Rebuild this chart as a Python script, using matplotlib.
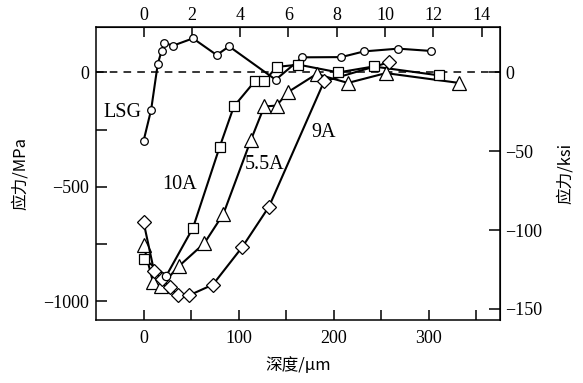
import matplotlib
matplotlib.use("Agg")
import matplotlib.pyplot as plt
import numpy as np

plt.rcParams['font.family'] = ['Liberation Serif', 'Noto Sans CJK SC', 'DejaVu Sans']
plt.rcParams['axes.unicode_minus'] = True

# Depth (um) and residual stress (MPa) for each condition
lsg_depth = [0, 8, 15, 19, 22, 31, 52, 77, 90, 139, 167, 208, 232, 268, 302]
lsg_stress = [-300, -163, 38, 94, 129, 117, 149, 76, 114, -32, 66, 67, 92, 104, 94]

a10_depth = [0, 24, 52, 80, 95, 117, 127, 140, 163, 205, 242, 311]
a10_stress = [-815, -889, -680, -327, -149, -39, -39, 24, 34, 0, 26, -13]
a10_markers = ['s', 'o', 's', 's', 's', 's', 's', 's', 's', 's', 's', 's']

a55_depth = [0, 10, 18, 37, 64, 84, 113, 127, 140, 152, 182, 215, 255, 332]
a55_stress = [-755, -918, -935, -848, -747, -619, -295, -149, -145, -86, -7, -46, -3, -46]

a9_depth = [0, 11, 19, 28, 36, 48, 73, 104, 132, 190, 258]
a9_stress = [-654, -868, -905, -940, -975, -975, -928, -763, -587, -39, 44]

series_labels = ['LSG', '10A', '5.5A', '9A']
label_pos = [(-42, -177), (20, -492), (107, -404), (177, -262)]

x_ticks = [0, 100, 200, 300]
y_ticks = [-1000, -500, 0]
top_ticks = [0, 2, 4, 6, 8, 10, 12, 14]
right_ticks = [0, -50, -100, -150]

fig = plt.figure(figsize=(5.83, 3.83), dpi=100)
ax = fig.add_axes([0.1647, 0.1632, 0.6929, 0.7671])

ax.axhline(0, color='black', lw=1.1, ls=(0, (5, 4)), zorder=1)

lw = 1.5
ax.plot(lsg_depth, lsg_stress, '-', color='black', lw=lw, marker='o', ms=5.5,
        mfc='white', mec='black', mew=0.9, zorder=3)
ax.plot(a10_depth, a10_stress, '-', color='black', lw=lw, zorder=3)
for xd, yd, m in zip(a10_depth, a10_stress, a10_markers):
    ax.plot([xd], [yd], ls='none', marker=m, ms=7 if m == 's' else 6,
            mfc='white', mec='black', mew=0.9, zorder=4)
ax.plot(a55_depth, a55_stress, '-', color='black', lw=lw, marker='^', ms=9.5,
        mfc='white', mec='black', mew=0.9, zorder=3)
ax.plot(a9_depth, a9_stress, '-', color='black', lw=lw, marker='D', ms=7.5,
        mfc='white', mec='black', mew=0.9, zorder=3)

for lab, (xx, yy) in zip(series_labels, label_pos):
    ax.text(xx, yy, lab, fontsize=14.5, ha='left', va='center',
            family='Liberation Serif', zorder=5)

ax.set_xlim(-50, 375)
ax.set_ylim(-1085, 200)
ax.set_xticks(x_ticks)
ax.set_xticks([50, 150, 250, 350], minor=True)
ax.set_yticks(y_ticks)
ax.set_yticks([-750, -250], minor=True)
ax.tick_params(which='both', direction='in', labelsize=13, width=1.1)
ax.tick_params(axis='y', which='both', length=8, pad=5)
ax.tick_params(axis='x', which='both', length=7, pad=7)
for sp in ax.spines.values():
    sp.set_linewidth(1.1)

ax.set_xlabel('深度/μm', fontsize=12, family=['Noto Sans CJK SC', 'DejaVu Sans'], labelpad=7)
ax.set_ylabel('应力/MPa', fontsize=12, family=['Noto Sans CJK SC', 'DejaVu Sans'], labelpad=10)

top = ax.secondary_xaxis('top', functions=(lambda d: d / 25.4, lambda m: m * 25.4))
top.set_xticks(top_ticks)
top.tick_params(direction='in', length=7, labelsize=13, width=1.1, pad=2)

right = ax.secondary_yaxis('right', functions=(lambda s: s / 6.895, lambda k: k * 6.895))
right.set_yticks(right_ticks)
right.tick_params(direction='in', length=8, labelsize=13, width=1.1, pad=4)
right.set_ylabel('应力/ksi', fontsize=12, family=['Noto Sans CJK SC', 'DejaVu Sans'], labelpad=10)

fig.savefig('out.png', dpi=100)
